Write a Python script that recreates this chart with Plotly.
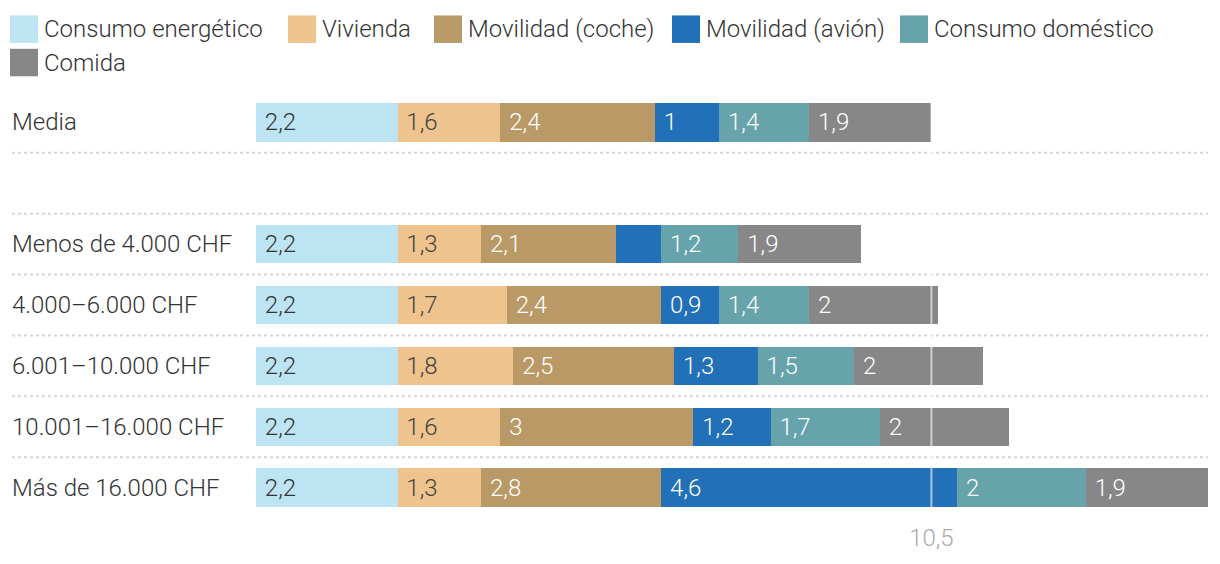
import plotly.graph_objects as go

# ---- data ----
categories = ["Media", " ", "Menos de 4.000 CHF", "4.000–6.000 CHF",
              "6.001–10.000 CHF", "10.001–16.000 CHF", "Más de 16.000 CHF"]
series_names = ["Consumo energético", "Vivienda", "Movilidad (coche)",
                "Movilidad (avión)", "Consumo doméstico", "Comida"]
consumo_energetico = [2.2, None, 2.2, 2.2, 2.2, 2.2, 2.2]
vivienda = [1.6, None, 1.3, 1.7, 1.8, 1.6, 1.3]
movilidad_coche = [2.4, None, 2.1, 2.4, 2.5, 3.0, 2.8]
movilidad_avion = [1.0, None, 0.7, 0.9, 1.3, 1.2, 4.6]
consumo_domestico = [1.4, None, 1.2, 1.4, 1.5, 1.7, 2.0]
comida = [1.9, None, 1.9, 2.0, 2.0, 2.0, 1.9]
reference_value = 10.5
reference_label = "10,5"

series_values = [consumo_energetico, vivienda, movilidad_coche,
                 movilidad_avion, consumo_domestico, comida]
colors = ["#bce4f2", "#eec38e", "#b99966", "#2270b8", "#66a3aa", "#878787"]
text_colors = ["#333333", "#444444", "#ffffff", "#ffffff", "#ffffff", "#ffffff"]

FONT = "Roboto"
FW = 300
FS = 24
OFF = 8                      # page body margin
WIN_W, WIN_H = 1220, 564
FIG_W, FIG_H = WIN_W - OFF, WIN_H - OFF
# plot area in window pixels
PL, PR, PT, PB = 256, 1208, 92, 526
PW, PH = PR - PL, PB - PT


def px_x(x):
    return (x - PL) / PW


def px_y(y):
    return (PB - y) / PH


def fmt(v):
    if v is None or v < 0.8:
        return ""
    s = f"{v:.1f}".replace(".", ",")
    if s.endswith(",0"):
        s = s[:-2]
    return "\u00a0" + s


fig = go.Figure()
for name, vals, col, tcol in zip(series_names, series_values, colors, text_colors):
    fig.add_trace(go.Bar(
        y=categories, x=vals, name=name, orientation="h",
        marker=dict(color=col, line=dict(width=0)),
        width=0.63,
        text=[fmt(v) for v in vals],
        textposition="inside", insidetextanchor="start",
        constraintext="none",
        insidetextfont=dict(family=FONT, size=FS, color=tcol, weight=FW),
        showlegend=False, hoverinfo="skip",
    ))

shapes = []
# dotted separators
for i in range(len(categories) - 1):
    shapes.append(dict(type="line", xref="paper", yref="y",
                       x0=px_x(12), x1=1, y0=i + 0.5, y1=i + 0.5,
                       line=dict(color="#d6d6d6", width=2, dash="dot"),
                       layer="below"))
# reference line
shapes.append(dict(type="line", xref="x", yref="paper",
                   x0=reference_value, x1=reference_value, y0=0, y1=1,
                   line=dict(color="rgba(255,255,255,0.6)", width=2),
                   layer="above"))

annotations = []
# category labels
for c in categories:
    if c.strip():
        annotations.append(dict(xref="paper", yref="y", x=px_x(10), y=c,
                                text=c, showarrow=False, xanchor="left",
                                yanchor="middle",
                                font=dict(family=FONT, size=FS, color="#333333", weight=FW)))

# manual legend (window pixel positions of the swatches)
legend_pos = [(10, 28), (288, 28), (434, 28), (672, 28), (900, 28), (10, 62)]
for (sx, sy), name, col in zip(legend_pos, series_names, colors):
    shapes.append(dict(type="rect", xref="paper", yref="paper",
                       x0=px_x(sx), x1=px_x(sx + 28),
                       y0=px_y(sy + 14), y1=px_y(sy - 14),
                       fillcolor=col, line=dict(width=0)))
    annotations.append(dict(xref="paper", yref="paper", x=px_x(sx + 32), y=px_y(sy),
                            text=name, showarrow=False, xanchor="left",
                            yanchor="middle",
                            font=dict(family=FONT, size=FS, color="#333333", weight=FW)))

fig.update_layout(
    width=FIG_W, height=FIG_H,
    margin=dict(l=PL - OFF, r=FIG_W - (PR - OFF), t=PT - OFF, b=FIG_H - (PB - OFF)),
    barmode="stack",
    plot_bgcolor="white", paper_bgcolor="white",
    font=dict(family=FONT, size=FS, color="#333333", weight=FW),
    xaxis=dict(range=[0, 14.8], showgrid=False, zeroline=False, showline=False,
               tickvals=[reference_value], ticktext=[reference_label],
               ticks="", ticklabelstandoff=3,
               tickfont=dict(family=FONT, size=FS, color="#aaaaaa", weight=FW),
               fixedrange=True),
    yaxis=dict(categoryorder="array", categoryarray=categories,
               range=[len(categories) - 0.5, -0.5],
               showticklabels=False, showgrid=False, zeroline=False,
               showline=False, ticks="", fixedrange=True),
    shapes=shapes,
    annotations=annotations,
)

fig.write_html("out.html")
